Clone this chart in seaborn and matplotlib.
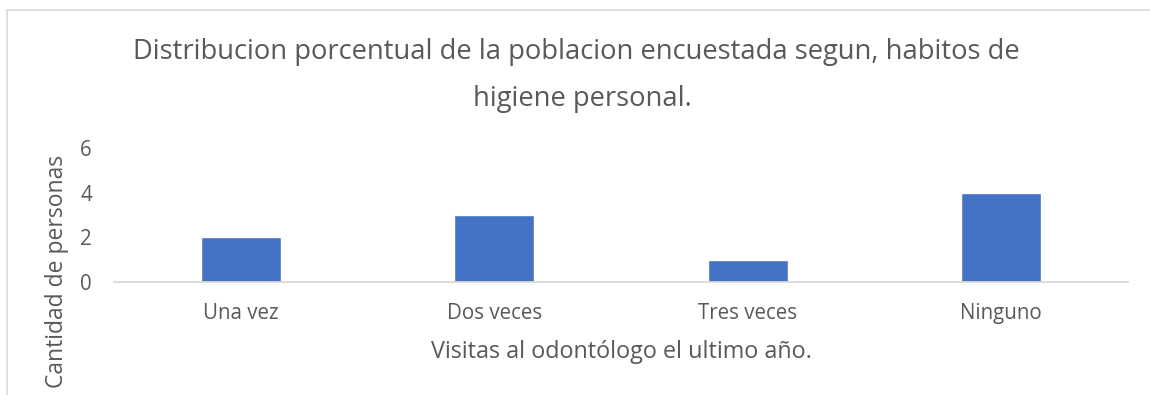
import matplotlib
matplotlib.use("Agg")
import matplotlib.pyplot as plt
from matplotlib.lines import Line2D
import seaborn as sns
import pandas as pd

categories = ["Una vez", "Dos veces", "Tres veces", "Ninguno"]
personas = [2, 3, 1, 4]
y_ticks = [0, 2, 4, 6]

title_lines = ["Distribucion porcentual de la poblacion encuestada segun, habitos de",
               "higiene personal."]
x_label = "Visitas al odontólogo el ultimo año."
y_label = "Cantidad de personas"

BAR = "#4472C4"
TEXT = "#595959"
GRID = "#D9D9D9"

sns.set_style("white")
plt.rcParams["font.family"] = ["Open Sans", "DejaVu Sans"]

df = pd.DataFrame({"visitas": categories, "personas": personas})

W, H = 1150, 395
fig = plt.figure(figsize=(W / 100, H / 100), dpi=100)
ax = fig.add_axes([114 / W, 1 - 282 / H, (1128 - 114) / W, (282 - 148) / H])

sns.barplot(data=df, x="visitas", y="personas", color=BAR, saturation=1,
            width=0.316, ax=ax)

ax.set_ylim(0, 6)
ax.set_xlim(-0.5, len(categories) - 0.5)
ax.set_yticks(y_ticks)
ax.set_yticklabels([str(t) for t in y_ticks])

for s in ["top", "right", "left"]:
    ax.spines[s].set_visible(False)
ax.spines["bottom"].set_color(GRID)
ax.spines["bottom"].set_linewidth(1.3)

ax.tick_params(axis="both", length=0, colors=TEXT, labelsize=14.8)
ax.tick_params(axis="y", pad=16)
ax.tick_params(axis="x", pad=15)

ax.set_xlabel(x_label, fontsize=16.8, color=TEXT)
ax.set_ylabel(y_label, fontsize=16.5, color=TEXT)
ax.xaxis.set_label_coords(0.5, (282 - 352) / 134)
ax.xaxis.label.set_va("center")
ax.yaxis.set_label_coords((57 - 114) / 1014, (282 - 271) / 134)
ax.yaxis.label.set_va("center")

fig.text(576 / W, 1 - 52 / H, title_lines[0], ha="center", va="center",
         fontsize=19.7, color=TEXT)
fig.text(582 / W, 1 - 99 / H, title_lines[1], ha="center", va="center",
         fontsize=19.7, color=TEXT)

# chart area border (left and top edges)
fig.add_artist(Line2D([6.5 / W, 6.5 / W], [0, 1 - 9.5 / H], color=GRID, lw=1.2,
                      transform=fig.transFigure))
fig.add_artist(Line2D([6.5 / W, 1], [1 - 9.5 / H, 1 - 9.5 / H], color=GRID, lw=1.2,
                      transform=fig.transFigure))

fig.savefig("out.png", dpi=100)
